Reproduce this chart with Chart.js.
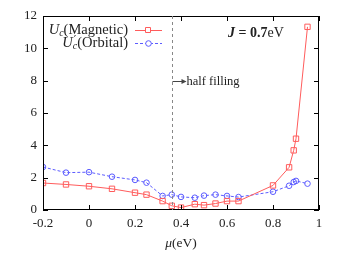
<!DOCTYPE html>
<html>
<head>
<meta charset="utf-8">
<script src="https://cdn.jsdelivr.net/npm/chart.js@4.4.0/dist/chart.umd.min.js"></script>
<style>
  html, body { margin: 0; padding: 0; background: #fff; }
  #wrap { width: 342px; height: 253px; }
</style>
</head>
<body>
<div id="wrap"><canvas id="chart"></canvas></div>
<script>
// data
const mu = [-0.2, -0.1, 0, 0.1, 0.2, 0.25, 0.32, 0.36, 0.40, 0.46, 0.50, 0.55, 0.60, 0.65, 0.80, 0.87, 0.89, 0.90, 0.95];
const ucMagnetic = [1.67, 1.58, 1.47, 1.31, 1.07, 0.95, 0.55, 0.26, 0.15, 0.36, 0.30, 0.40, 0.55, 0.55, 1.52, 2.64, 3.69, 4.41, 11.33];
const ucOrbital = [2.66, 2.31, 2.34, 2.06, 1.86, 1.69, 0.87, 0.95, 0.81, 0.76, 0.89, 0.95, 0.87, 0.80, 1.13, 1.50, 1.73, 1.80, 1.63];
const xTicks = [-0.2, 0, 0.2, 0.4, 0.6, 0.8, 1];
const yTicks = [0, 2, 4, 6, 8, 10, 12];
const halfFilling = 0.36;

const RED = "#ff5c5c";
const BLUE = "#5c5cff";
const SERIF = "'Liberation Serif', 'DejaVu Serif', serif";

// draw a run of text pieces with different fonts, returns end x
function drawRuns(ctx, runs, x, y, measureOnly) {
  let cx = x;
  runs.forEach(r => {
    ctx.font = r.font;
    if (!measureOnly) ctx.fillText(r.text, cx + (r.dx || 0), y + (r.dy || 0));
    if (!r.noAdvance) cx += ctx.measureText(r.text).width;
  });
  return cx;
}

const decorations = {
  id: "decorations",
  afterDraw(chart) {
    const ctx = chart.ctx;
    const a = chart.chartArea;
    const xs = chart.scales.x, ys = chart.scales.y;
    ctx.save();

    // frame
    ctx.strokeStyle = "#000";
    ctx.lineWidth = 1;
    ctx.strokeRect(a.left + 0.5, a.top + 0.5, a.right - a.left - 1, a.bottom - a.top - 1);

    // inward ticks, mirrored
    const tl = 5;
    ctx.beginPath();
    xTicks.forEach(v => {
      const px = Math.round(xs.getPixelForValue(v)) + 0.5;
      ctx.moveTo(px, a.bottom); ctx.lineTo(px, a.bottom - tl);
      ctx.moveTo(px, a.top); ctx.lineTo(px, a.top + tl);
    });
    yTicks.forEach(v => {
      const py = Math.round(ys.getPixelForValue(v)) + 0.5;
      ctx.moveTo(a.left, py); ctx.lineTo(a.left + tl, py);
      ctx.moveTo(a.right, py); ctx.lineTo(a.right - tl, py);
    });
    ctx.stroke();

    // half filling line
    const hx = Math.round(xs.getPixelForValue(halfFilling)) + 0.5;
    ctx.strokeStyle = "#888";
    ctx.setLineDash([3, 3]);
    ctx.beginPath();
    ctx.moveTo(hx, a.top); ctx.lineTo(hx, a.bottom);
    ctx.stroke();
    ctx.setLineDash([]);

    // arrow + label
    const ay = Math.round(ys.getPixelForValue(8.0)) + 0.5;
    ctx.strokeStyle = "#444";
    ctx.beginPath();
    ctx.moveTo(hx, ay); ctx.lineTo(hx + 13, ay);
    ctx.stroke();
    ctx.fillStyle = "#444";
    ctx.beginPath();
    ctx.moveTo(hx + 14, ay); ctx.lineTo(hx + 9, ay - 2.5); ctx.lineTo(hx + 9, ay + 2.5); ctx.closePath();
    ctx.fill();
    ctx.fillStyle = "#222";
    ctx.textBaseline = "middle";
    ctx.font = "12.5px " + SERIF;
    ctx.fillText("half filling", hx + 14, ay);

    // J = 0.7eV
    drawRuns(ctx, [
      { text: "J", font: "italic bold 14px " + SERIF },
      { text: " = 0.7", font: "bold 14px " + SERIF },
      { text: "eV", font: "14px " + SERIF }
    ], 228, 33);

    // legend
    const lx = 128;
    const legend = [
      { y: 30, color: RED, dash: [], marker: "rect",
        runs: [
          { text: "U", font: "italic 14.5px " + SERIF },
          { text: "c", font: "italic 10px " + SERIF, dy: 3 },
          { text: "(Magnetic)", font: "14.5px " + SERIF }
        ] },
      { y: 43, color: BLUE, dash: [3, 2], marker: "circle",
        runs: [
          { text: "U", font: "italic 14.5px " + SERIF },
          { text: "\u2032", font: "11px 'DejaVu Sans'", dy: -3, dx: 1, noAdvance: true },
          { text: "c", font: "italic 10px " + SERIF, dy: 3 },
          { text: "(Orbital)", font: "14.5px " + SERIF }
        ] }
    ];
    legend.forEach(item => {
      ctx.fillStyle = "#222";
      ctx.textBaseline = "middle";
      const w = drawRuns(ctx, item.runs, 0, item.y, true);
      drawRuns(ctx, item.runs, lx - w, item.y);
      ctx.strokeStyle = item.color;
      ctx.lineWidth = 1;
      ctx.setLineDash(item.dash);
      ctx.beginPath();
      ctx.moveTo(135, item.y + 0.5); ctx.lineTo(162, item.y + 0.5);
      ctx.stroke();
      ctx.setLineDash([]);
      ctx.fillStyle = "#fff";
      ctx.beginPath();
      if (item.marker === "rect") ctx.rect(145.5, item.y - 2.5, 5, 5);
      else ctx.arc(148.5, item.y + 0.5, 2.8, 0, Math.PI * 2);
      ctx.fill();
      ctx.stroke();
    });

    // x axis title
    ctx.fillStyle = "#222";
    ctx.textBaseline = "middle";
    const title = [
      { text: "\u03bc", font: "italic 13.5px " + SERIF },
      { text: "(eV)", font: "13.5px " + SERIF }
    ];
    const tw = drawRuns(ctx, title, 0, 0, true);
    drawRuns(ctx, title, (a.left + a.right) / 2 - tw / 2, 243);

    ctx.restore();
  }
};

new Chart(document.getElementById("chart"), {
  type: "line",
  data: {
    datasets: [
      {
        label: "Uc(Magnetic)",
        data: mu.map((x, i) => ({ x: x, y: ucMagnetic[i] })),
        borderColor: RED,
        backgroundColor: "rgba(255,255,255,0)",
        borderWidth: 1,
        pointStyle: "rect",
        pointRadius: 3.8,
        pointBorderWidth: 1,
        pointBorderColor: RED,
        pointBackgroundColor: "rgba(255,255,255,0)",
        tension: 0
      },
      {
        label: "U'c(Orbital)",
        data: mu.map((x, i) => ({ x: x, y: ucOrbital[i] })),
        borderColor: BLUE,
        backgroundColor: "rgba(255,255,255,0)",
        borderWidth: 1,
        borderDash: [3, 2],
        pointStyle: "circle",
        pointRadius: 2.8,
        pointBorderWidth: 1,
        pointBorderColor: BLUE,
        pointBackgroundColor: "rgba(255,255,255,0)",
        tension: 0
      }
    ]
  },
  options: {
    responsive: true,
    maintainAspectRatio: false,
    animation: false,
    layout: { padding: { top: 16, right: 23, bottom: 0, left: 0 } },
    plugins: { legend: { display: false }, tooltip: { enabled: false } },
    scales: {
      x: {
        type: "linear",
        min: -0.2,
        max: 1,
        afterBuildTicks: s => { s.ticks = xTicks.map(v => ({ value: v })); },
        afterFit: s => { s.height = 43; },
        grid: { display: false, drawTicks: false },
        border: { display: false },
        ticks: {
          padding: 6,
          color: "#222",
          font: { family: SERIF, size: 13 },
          callback: v => String(Number(v.toFixed(1)))
        }
      },
      y: {
        min: 0,
        max: 12,
        afterBuildTicks: s => { s.ticks = yTicks.map(v => ({ value: v })); },
        afterFit: s => { s.width = 43; },
        grid: { display: false, drawTicks: false },
        border: { display: false },
        ticks: {
          padding: 6,
          color: "#222",
          font: { family: SERIF, size: 13 }
        }
      }
    }
  },
  plugins: [decorations]
});
</script>
</body>
</html>
